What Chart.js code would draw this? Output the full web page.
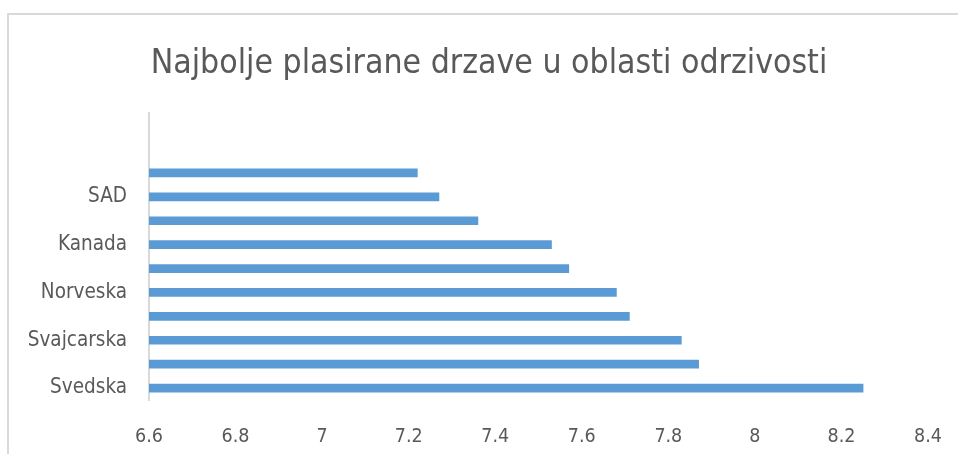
<!DOCTYPE html>
<html>
<head>
<meta charset="utf-8">
<script src="https://cdn.jsdelivr.net/npm/chart.js@4/dist/chart.umd.min.js"></script>
<style>
  html, body { margin: 0; padding: 0; background: #fff; }
  #wrap { position: relative; width: 958px; height: 454px; overflow: hidden; }
  #frame { position: absolute; left: 7px; top: 13px; width: 1000px; height: 500px;
           border-top: 2px solid #d9d9d9; border-left: 2px solid #d9d9d9; }
  canvas { position: absolute; left: 0; top: 0; }
</style>
</head>
<body>
<div id="wrap">
  <div id="frame"></div>
  <canvas id="chart" width="958" height="454"></canvas>
</div>
<script>
// categories bottom -> top, as in the original sheet (only every second one is labelled)
var countries = ['Svedska', '', 'Svajcarska', '', 'Norveska', '', 'Kanada', '', 'SAD', '', '', ''];
var scores = [8.25, 7.87, 7.83, 7.71, 7.68, 7.57, 7.53, 7.36, 7.27, 7.22, null, null];
var chartTitle = 'Najbolje plasirane drzave u oblasti odrzivosti';
var xMin = 6.6, xMax = 8.4, xStep = 0.2;

var fontFamily = "'DejaVu Sans Condensed', 'Liberation Sans Narrow', 'Noto Sans', sans-serif";
var textColor = '#595959';

var cfg = {
  type: 'bar',
  data: {
    labels: countries,
    datasets: [{
      label: 'Ocena',
      data: scores,
      backgroundColor: '#5b9bd5',
      borderWidth: 0,
      barThickness: 8
    }]
  },
  options: {
    indexAxis: 'y',
    responsive: false,
    animation: false,
    layout: { padding: { left: 20, right: 0, top: 0, bottom: 0 } },
    plugins: {
      legend: { display: false },
      tooltip: { enabled: false },
      title: {
        display: true,
        text: chartTitle,
        color: textColor,
        font: { family: fontFamily, size: 33.5, weight: 'normal', lineHeight: 1.2 },
        padding: { top: 44, bottom: 29 }
      }
    },
    scales: {
      x: {
        min: xMin,
        max: xMax,
        ticks: {
          stepSize: xStep,
          color: textColor,
          font: { family: fontFamily, size: 19.5 },
          padding: 25,
          callback: function (v) { return String(parseFloat(Number(v).toFixed(2))); }
        },
        grid: { display: false, drawTicks: false },
        border: { display: false },
        afterFit: function (s) { s.height = 54; s.paddingRight = 30; }
      },
      y: {
        reverse: true,
        ticks: {
          autoSkip: false,
          color: textColor,
          font: { family: fontFamily, size: 20.5 },
          padding: 22
        },
        grid: { display: false, drawTicks: false },
        border: { display: true, color: '#d9d9d9', width: 2 },
        afterFit: function (s) { s.width = 129; }
      }
    }
  }
};

new Chart(document.getElementById('chart').getContext('2d'), cfg);
</script>
</body>
</html>
